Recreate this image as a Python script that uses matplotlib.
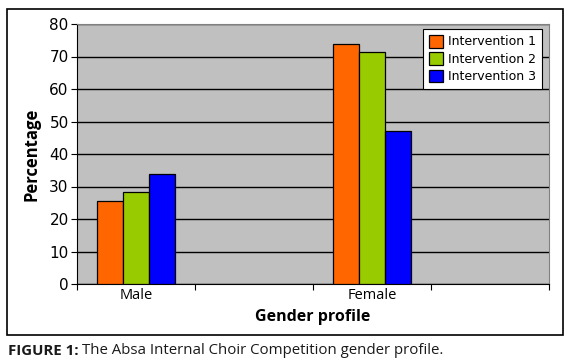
import numpy as np
import matplotlib.pyplot as plt
from matplotlib.patches import Rectangle

# values
categories = ["Male", "", "Female", ""]
series_names = ["Intervention 1", "Intervention 2", "Intervention 3"]
intervention_1 = [25.4, np.nan, 73.9, np.nan]
intervention_2 = [28.4, np.nan, 71.4, np.nan]
intervention_3 = [33.8, np.nan, 47.0, np.nan]
colors = ["#FF6600", "#99CC00", "#0000FF"]

fig = plt.figure(figsize=(5.71, 3.64), dpi=100)
ax = fig.add_axes([77 / 571, 1 - 284 / 364, 472 / 571, 260 / 364])

# outer chart frame
fig.patches.append(Rectangle((7 / 571, 1 - 335 / 364), 556 / 571, 326 / 364,
                             transform=fig.transFigure, fill=False,
                             edgecolor="black", linewidth=1.2, zorder=0))

x = np.arange(len(categories))
width = 2 / 9
for i, (vals, name) in enumerate(zip([intervention_1, intervention_2, intervention_3],
                                     series_names)):
    ax.bar(x + (i - 1) * width, vals, width, color=colors[i], edgecolor="black",
           linewidth=0.9, label=name, zorder=3)

ax.set_facecolor("#C0C0C0")
ax.set_xlim(-0.5, len(categories) - 0.5)
ax.set_ylim(0, 80)
ax.set_yticks(range(0, 81, 10))
ax.yaxis.grid(True, color="black", linewidth=1.0, zorder=1)
ax.set_axisbelow(True)

# category boundaries as tick marks, names centered between them
ax.set_xticks(np.arange(-0.5, len(categories), 1.0))
ax.set_xticklabels([])
ax.set_xticks(x, minor=True)
ax.set_xticklabels(categories, minor=True, fontsize=10.5, family="Open Sans")
ax.tick_params(axis="x", which="minor", length=0, pad=3)
ax.tick_params(axis="x", which="major", length=4, width=0.8)
ax.tick_params(axis="y", length=4, width=0.8, labelsize=11, pad=2)

for side in ["top", "right"]:
    ax.spines[side].set_color("#808080")
ax.spines["left"].set_color("black")
ax.spines["bottom"].set_color("black")

ax.set_ylabel("Percentage", fontsize=12, fontweight="bold", family="Open Sans", labelpad=6)
ax.set_xlabel("Gender profile", fontsize=11.5, fontweight="bold", family="Open Sans",
              labelpad=4)

leg = ax.legend(loc="upper right", bbox_to_anchor=(0.985, 0.98), fontsize=9,
                frameon=True, fancybox=False, edgecolor="black", framealpha=1,
                handlelength=1.1, handleheight=1.2, handletextpad=0.45,
                borderpad=0.45, labelspacing=0.3, borderaxespad=0)
leg.get_frame().set_linewidth(0.8)

# caption: bold figure number followed by regular text
cap_y = 1 - 351 / 364
cap = fig.text(8 / 571, cap_y, "FIGURE 1:", fontsize=10.8, va="center",
               fontweight="bold", family="Open Sans", color="#1a1a1a")
fig.canvas.draw()
bb = cap.get_window_extent()
fig.text(bb.x1 / fig.bbox.width + 3 / 571, cap_y,
         "The Absa Internal Choir Competition gender profile.", fontsize=10.8,
         va="center", family="Open Sans", color="#1a1a1a")

fig.savefig("out.png", dpi=100)
